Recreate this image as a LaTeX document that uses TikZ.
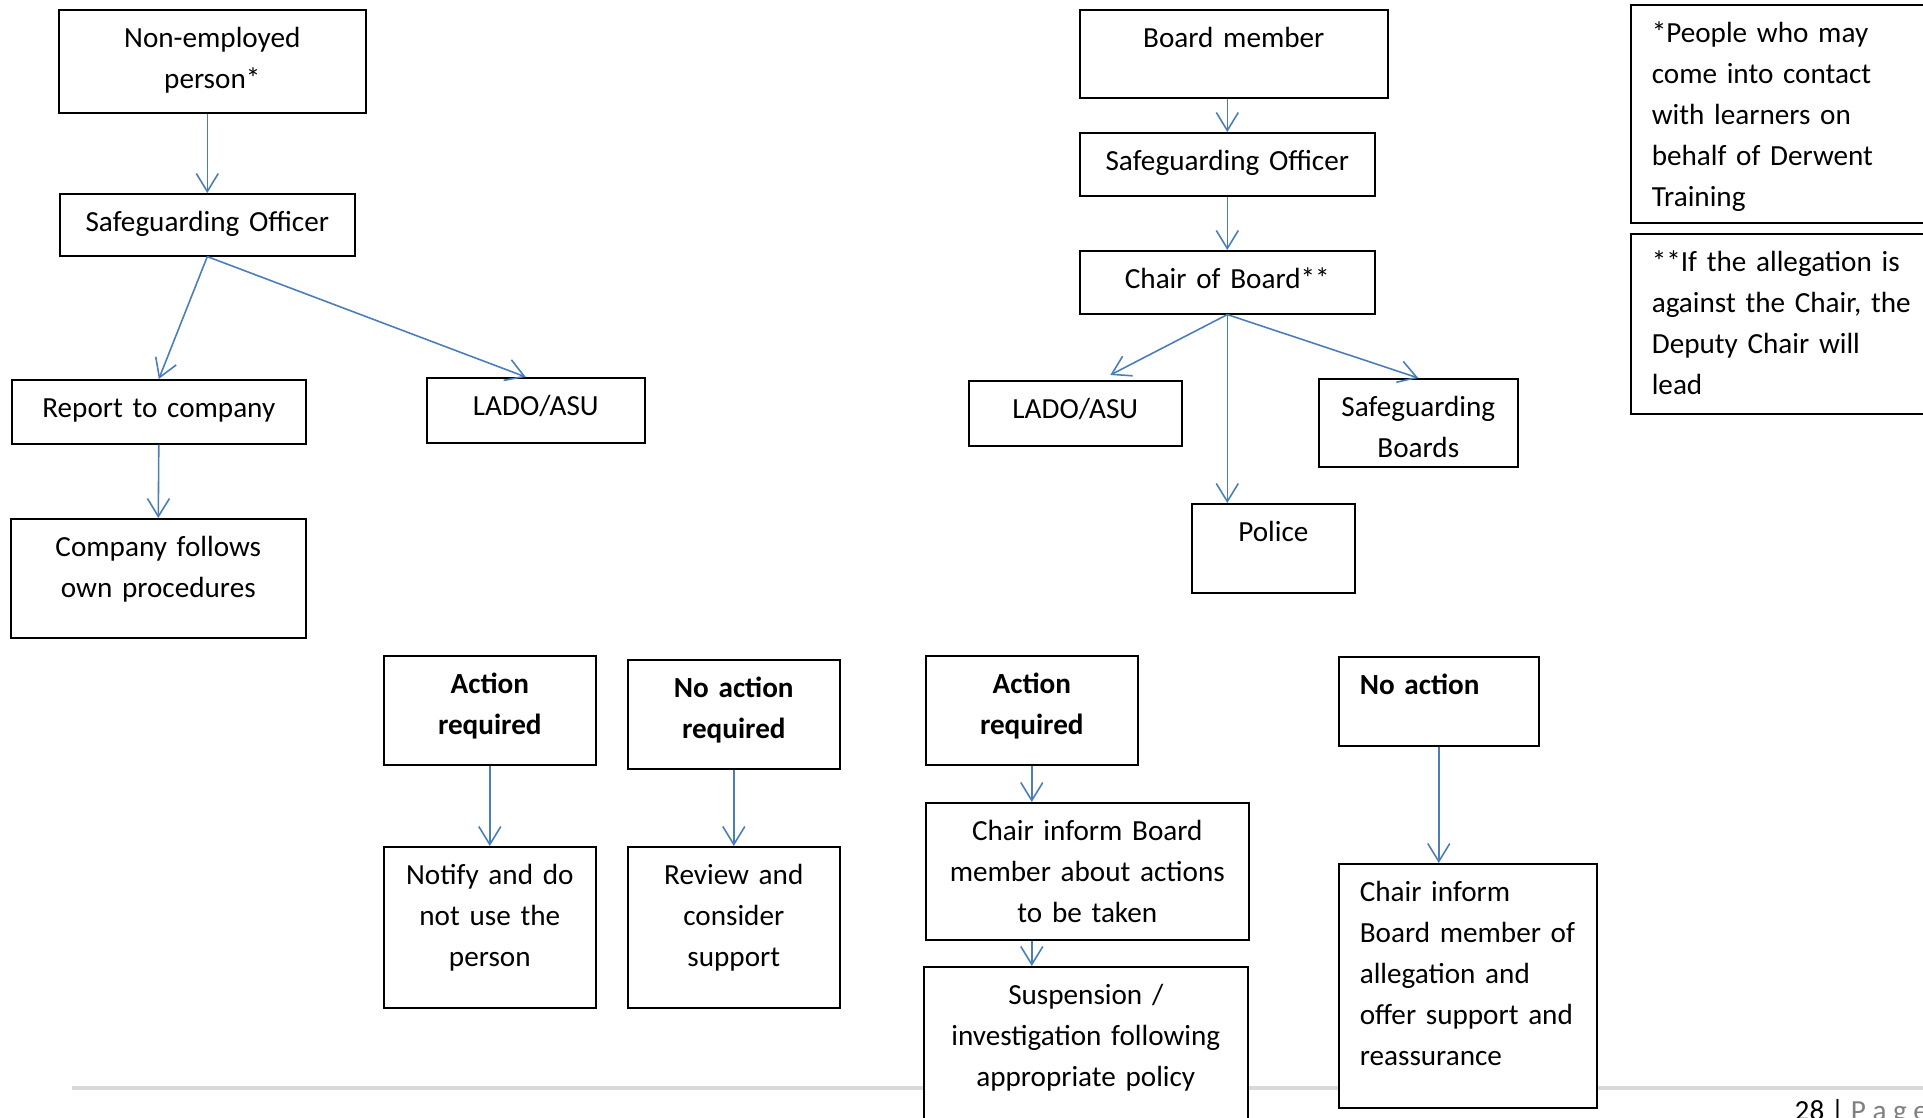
\documentclass[tikz,border=0pt]{standalone}
\usepackage{fontspec}
\setmainfont{Carlito}
\usepackage{xcolor}
\usetikzlibrary{arrows.meta}
\definecolor{lineblue}{RGB}{74,126,187}
\definecolor{rulegray}{RGB}{217,217,217}
\definecolor{pagegray}{RGB}{127,127,127}

\begin{document}
\begin{tikzpicture}[
    x=1mm, y=-1mm,
    plainbox/.style={rectangle, draw=black, line width=0.45pt, fill=white, anchor=north west,
        inner xsep=1mm, inner ysep=0pt, text height=3.8mm, align=center,
        font=\fontsize{8.3}{11.66}\selectfont},
    boldbox/.style={plainbox, font=\fontsize{8.3}{11.66}\selectfont\bfseries},
    notebox/.style={plainbox, inner xsep=2.1mm, align=left},
    arrowline/.style={draw=lineblue, line width=0.45pt, -{Straight Barb[length=1.8mm, width=2.2mm]}},
    ]
    \useasboundingbox (0,0) rectangle (192.3,111.7);
    \clip (0,0) rectangle (192.3,111.7);

    % Footer
    \draw[rulegray, line width=0.9pt] (7.2,108.8) -- (192.3,108.8);
    \node[anchor=base west, inner sep=0pt, font=\fontsize{8.3}{11.66}\selectfont] (pagenum) at (179.4,112.0)
        {28 | \textcolor{pagegray}{P a g e}};

    %Nodes - non-employed branch
    \node[plainbox, minimum width=30.7mm, text width=28.7mm, text depth=6.5mm]  (nonemp)  at (5.8,0.9)   {Non-employed\\person*};
    \node[plainbox, minimum width=29.5mm, text width=27.5mm, text depth=2.4mm]  (safe1)   at (5.9,19.3)  {Safeguarding Officer};
    \node[plainbox, minimum width=29.4mm, text width=27.4mm, text depth=2.6mm]  (report)  at (1.1,37.9)  {Report to company};
    \node[plainbox, minimum width=21.8mm, text width=19.8mm, text depth=2.7mm]  (lado1)   at (42.6,37.7) {LADO/ASU};
    \node[plainbox, minimum width=29.5mm, text width=27.5mm, text depth=8.1mm]  (company) at (1.0,51.8)  {Company follows\\own procedures};
    \node[boldbox,  minimum width=21.2mm, text width=19.2mm, text depth=7.1mm]  (act1)    at (38.3,65.5) {Action\\required};
    \node[boldbox,  minimum width=21.2mm, text width=19.2mm, text depth=7.1mm]  (noact1)  at (62.7,65.9) {No action\\required};
    \node[plainbox, minimum width=21.2mm, text width=19.2mm, text depth=12.3mm] (notify)  at (38.3,84.6) {Notify and do\\not use the\\person};
    \node[plainbox, minimum width=21.2mm, text width=19.2mm, text depth=12.3mm] (review)  at (62.7,84.6) {Review and\\consider\\support};

    %Nodes - board member branch
    \node[plainbox, minimum width=30.8mm, text width=28.8mm, text depth=5.0mm]  (board)   at (107.9,0.9)  {Board member};
    \node[plainbox, minimum width=29.5mm, text width=27.5mm, text depth=2.5mm]  (safe2)   at (107.9,13.2) {Safeguarding Officer};
    \node[plainbox, minimum width=29.5mm, text width=27.5mm, text depth=2.5mm]  (chair)   at (107.9,25.0) {Chair of Board**};
    \node[plainbox, minimum width=21.3mm, text width=19.3mm, text depth=2.7mm]  (lado2)   at (96.8,38.0)  {LADO/ASU};
    \node[plainbox, minimum width=19.9mm, text width=17.9mm, text depth=5.0mm]  (boards)  at (131.8,37.8) {Safeguarding\\Boards};
    \node[plainbox, minimum width=16.3mm, text width=14.3mm, text depth=5.1mm]  (police)  at (119.1,50.3) {Police};
    \node[boldbox,  minimum width=21.2mm, text width=19.2mm, text depth=7.1mm]  (act2)    at (92.5,65.5)  {Action\\required};
    \node[plainbox, minimum width=32.3mm, text width=30.3mm, text depth=9.9mm]  (inform1) at (92.5,80.2)  {Chair inform Board\\member about actions\\to be taken};
    \node[plainbox, minimum width=32.4mm, text width=30.4mm, text depth=12.2mm] (suspend) at (92.3,96.6)  {Suspension /\\investigation following\\appropriate policy};
    \node[notebox, boldbox, align=left, inner xsep=2.1mm,
          minimum width=20.0mm, text width=15.8mm, text depth=5.1mm]            (noact2)  at (133.8,65.6) {No action};
    \node[notebox,  minimum width=25.8mm, text width=21.6mm, text depth=20.6mm] (inform2) at (133.8,86.3) {Chair inform\\Board member of\\allegation and\\offer support and\\reassurance};

    %Notes
    \node[notebox,  minimum width=31mm, text width=26.8mm, text depth=18.0mm]   (note1)   at (163.0,0.4)  {*People who may\\come into contact\\with learners on\\behalf of Derwent\\Training};
    \node[notebox,  minimum width=31mm, text width=26.8mm, text depth=14.2mm]   (note2)   at (163.0,23.3) {**If the allegation is\\against the Chair, the\\Deputy Chair will\\lead};

    %Lines
    \draw[arrowline] (safe1.north |- nonemp.south) -- (safe1.north);
    \draw[arrowline] (safe1.south)  -- (report.north);
    \draw[arrowline] (safe1.south)  -- ([xshift=-1mm]lado1.north);
    \draw[arrowline] (report.south) -- (company.north);
    \draw[arrowline] (act1.south)   -- (notify.north);
    \draw[arrowline] (noact1.south) -- (review.north);
    \draw[arrowline] (safe2.north |- board.south) -- (safe2.north);
    \draw[arrowline] (safe2.south)  -- (chair.north);
    \draw[arrowline] (chair.south)  -- ([xshift=3.5mm, yshift=0.5mm]lado2.north);
    \draw[arrowline] (chair.south)  -- (chair.south |- police.north);
    \draw[arrowline] (chair.south)  -- (boards.north);
    \draw[arrowline] (act2.south)   -- (act2.south |- inform1.north);
    \draw[arrowline] (act2.south |- inform1.south) -- (act2.south |- suspend.north);
    \draw[arrowline] (noact2.south) -- (noact2.south |- inform2.north);
\end{tikzpicture}
\end{document}
